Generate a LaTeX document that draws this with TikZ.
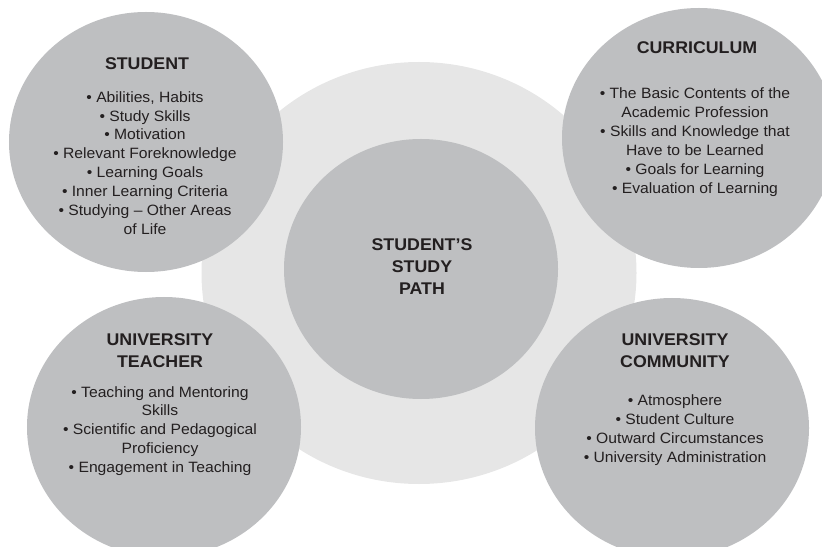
\documentclass[tikz,border=0pt]{standalone}
\usepackage{fontspec}
\setmainfont{Liberation Sans}[FakeStretch=1.05]
\usetikzlibrary{shapes.geometric}
\usepackage{xcolor}
\definecolor{ringgray}{HTML}{E6E6E6}
\definecolor{circgray}{HTML}{BEBFC1}
\definecolor{inkgray}{HTML}{231F20}
\tikzset{topic/.style={ellipse, fill=circgray, minimum width=274bp,
                       minimum height=260bp, inner sep=0pt},
         heading/.style={align=center, text=inkgray,
                         font=\fontsize{17}{22}\selectfont\bfseries},
         items/.style={align=center, text=inkgray,
                       font=\fontsize{15}{19}\selectfont}}

\begin{document}
\begin{tikzpicture}[x=1bp, y=-1bp]

        \useasboundingbox (0,0) rectangle (822,547);
        \clip (0,0) rectangle (822,547);

        % Light ring behind everything
        \node[ellipse, fill=ringgray, minimum width=435bp, minimum height=422bp,
              inner sep=0pt] (ring) at (419,273) {};

        % Centre circle
        \node[topic] (path) at (421,269) {};
        \node[heading] (pathtitle) at (422,267) {STUDENT’S\\STUDY\\PATH};

        % Student
        \node[topic] (student) at (146,142) {};
        \node[heading] (studenttitle) at (147,64) {STUDENT};
        \node[items] (studentlist) at (145,163) {%
            • Abilities, Habits\\• Study Skills\\• Motivation\\
            • Relevant Foreknowledge\\• Learning Goals\\
            • Inner Learning Criteria\\• Studying -- Other Areas\\of Life};

        % Curriculum
        \node[topic] (curriculum) at (699,138) {};
        \node[heading] (curriculumtitle) at (697,48) {CURRICULUM};
        \node[items] (curriculumlist) at (695,142) {%
            • The Basic Contents of the\\Academic Profession\\
            • Skills and Knowledge that\\Have to be Learned\\
            • Goals for Learning\\• Evaluation of Learning};

        % University teacher
        \node[topic] (teacher) at (164,427) {};
        \node[heading] (teachertitle) at (160,351) {UNIVERSITY\\TEACHER};
        \node[items] (teacherlist) at (160,431) {%
            • Teaching and Mentoring\\Skills\\
            • Scientific and Pedagogical\\Proficiency\\
            • Engagement in Teaching};

        % University community
        \node[topic] (community) at (672,428) {};
        \node[heading] (communitytitle) at (675,351) {UNIVERSITY\\COMMUNITY};
        \node[items] (communitylist) at (675,430) {%
            • Atmosphere\\• Student Culture\\
            • Outward Circumstances\\• University Administration};

    \end{tikzpicture}
\end{document}
